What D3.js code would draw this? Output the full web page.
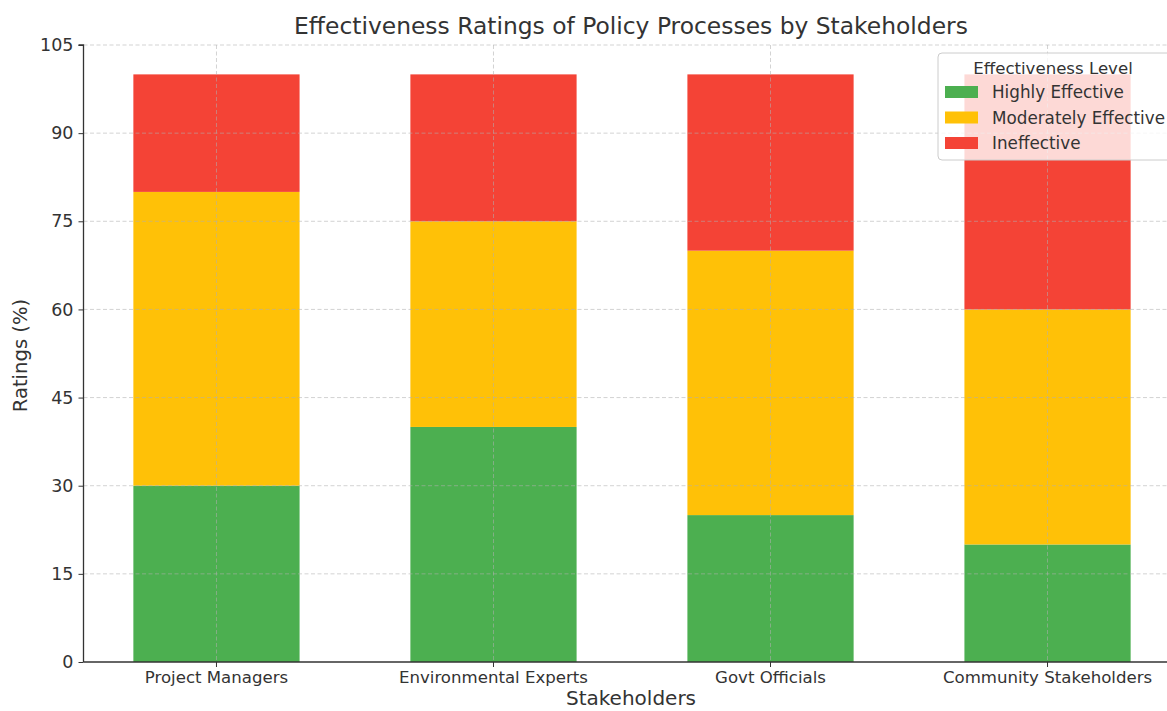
<!DOCTYPE html>
<html>
<head>
<meta charset="utf-8">
<script src="https://cdn.jsdelivr.net/npm/d3@7"></script>
<style>
  html, body { margin: 0; padding: 0; background: #fff; }
  svg { display: block; overflow: hidden; font-family: "DejaVu Sans", sans-serif; }
</style>
</head>
<body>
<svg id="chart" width="1167" height="711"></svg>
<script>
// Stakeholder groups and their share of ratings per effectiveness level
const stakeholders = ["Project Managers", "Environmental Experts", "Govt Officials", "Community Stakeholders"];
const highlyEffective = [30, 40, 25, 20];
const moderatelyEffective = [50, 35, 45, 40];
const ineffective = [20, 25, 30, 40];
const levels = ["Highly Effective", "Moderately Effective", "Ineffective"];
const levelColors = ["#4CAF50", "#FFC107", "#F44336"];
const yTicks = [0, 15, 30, 45, 60, 75, 90, 105];

const svg = d3.select("#chart");
const W = 1167, H = 711;
const m = { left: 83.5, top: 45, bottom: 662 };

// Stack the three series per stakeholder
const rows = stakeholders.map((s, i) => ({
  name: s,
  "Highly Effective": highlyEffective[i],
  "Moderately Effective": moderatelyEffective[i],
  "Ineffective": ineffective[i]
}));
const stacked = d3.stack().keys(levels)(rows);

const x = d3.scaleBand()
  .domain(stakeholders)
  .range([m.left, 1180.5])
  .paddingInner(0.4)
  .paddingOuter(0.18);

const y = d3.scaleLinear().domain([0, 105]).range([m.bottom, m.top]);

// Bars
svg.append("g").selectAll("g")
  .data(stacked)
  .join("g")
  .attr("fill", (d, i) => levelColors[i])
  .selectAll("rect")
  .data(d => d)
  .join("rect")
  .attr("x", d => x(d.data.name))
  .attr("width", x.bandwidth())
  .attr("y", d => y(d[1]))
  .attr("height", d => y(d[0]) - y(d[1]));

// Dashed grid drawn over the bars
const grid = svg.append("g")
  .attr("stroke", "#b0b0b0")
  .attr("stroke-opacity", 0.7)
  .attr("stroke-width", 0.8)
  .attr("stroke-dasharray", "4,2.5");
grid.selectAll("line.h")
  .data(yTicks.filter(t => t > 0))
  .join("line")
  .attr("class", "h")
  .attr("x1", m.left).attr("x2", W)
  .attr("y1", d => y(d)).attr("y2", d => y(d));
grid.selectAll("line.v")
  .data(stakeholders)
  .join("line")
  .attr("class", "v")
  .attr("x1", d => x(d) + x.bandwidth() / 2)
  .attr("x2", d => x(d) + x.bandwidth() / 2)
  .attr("y1", m.top).attr("y2", m.bottom);

// Y axis
const yAxis = svg.append("g")
  .attr("transform", `translate(${m.left},0)`)
  .call(d3.axisLeft(y).tickValues(yTicks).tickSize(5).tickPadding(5));
yAxis.select(".domain").attr("stroke", "#333").attr("stroke-width", 1.3).attr("d", `M-5,${m.top}H0V${m.bottom}`);
yAxis.selectAll(".tick line").attr("stroke", "#333").attr("stroke-width", 1);
yAxis.selectAll(".tick text").attr("fill", "#333").style("font-size", "17.5px").style("font-family", "DejaVu Sans");

// X axis
const xAxis = svg.append("g")
  .attr("transform", `translate(0,${m.bottom})`)
  .call(d3.axisBottom(x).tickSize(5).tickPadding(4));
xAxis.select(".domain").attr("stroke", "#333").attr("stroke-width", 1.3).attr("d", `M${m.left},0H${W + 20}`);
xAxis.selectAll(".tick line").attr("stroke", "#333").attr("stroke-width", 1);
xAxis.selectAll(".tick text").attr("fill", "#333").style("font-size", "16.6px").style("font-family", "DejaVu Sans");

// Titles
svg.append("text")
  .attr("x", 631).attr("y", 34)
  .attr("text-anchor", "middle")
  .attr("fill", "#333")
  .style("font-size", "23.4px")
  .text("Effectiveness Ratings of Policy Processes by Stakeholders");

svg.append("text")
  .attr("x", 631).attr("y", 705)
  .attr("text-anchor", "middle")
  .attr("fill", "#333")
  .style("font-size", "20px")
  .text("Stakeholders");

svg.append("text")
  .attr("transform", `translate(27,${(m.top + m.bottom) / 2 + 2}) rotate(-90)`)
  .attr("text-anchor", "middle")
  .attr("fill", "#333")
  .style("font-size", "19.6px")
  .text("Ratings (%)");

// Legend
const lg = svg.append("g").attr("transform", "translate(938,53)");
lg.append("rect")
  .attr("width", 236).attr("height", 107)
  .attr("rx", 4)
  .attr("fill", "#fff").attr("fill-opacity", 0.8)
  .attr("stroke", "#ccc").attr("stroke-width", 1);
lg.append("text")
  .attr("x", 115).attr("y", 21)
  .attr("text-anchor", "middle")
  .attr("fill", "#333")
  .style("font-size", "16.6px")
  .text("Effectiveness Level");
const items = lg.selectAll("g.item")
  .data(levels)
  .join("g")
  .attr("class", "item")
  .attr("transform", (d, i) => `translate(7,${33 + i * 25.5})`);
items.append("rect")
  .attr("width", 33).attr("height", 12)
  .attr("fill", (d, i) => levelColors[i]);
items.append("text")
  .attr("x", 47).attr("y", 12)
  .attr("fill", "#333")
  .style("font-size", "16.8px")
  .text(d => d);
</script>
</body>
</html>
